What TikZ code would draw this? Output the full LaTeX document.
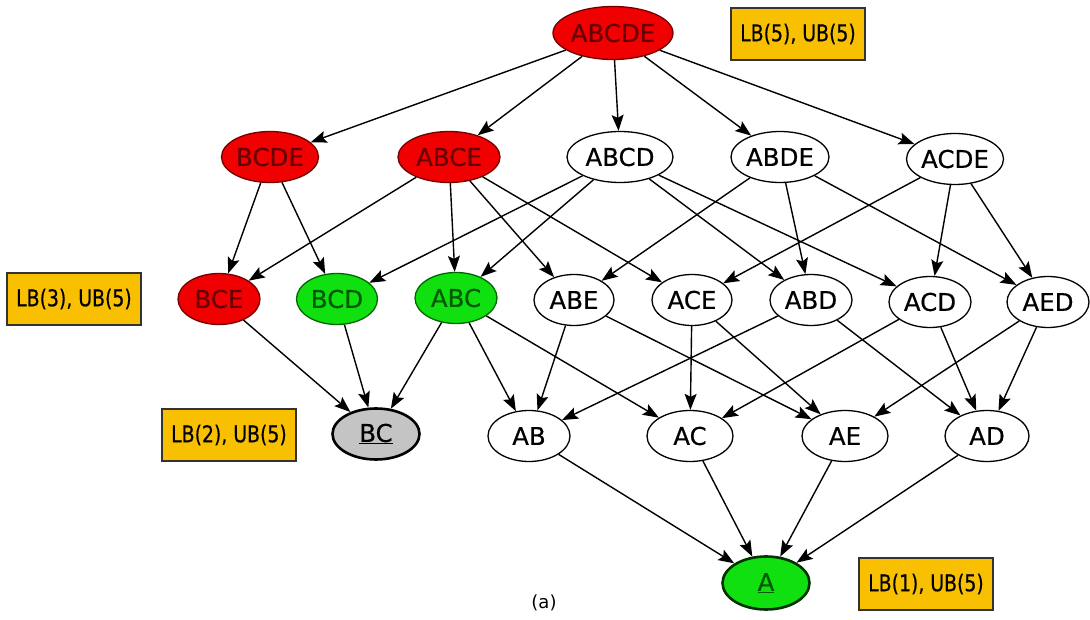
\documentclass[tikz,border=0pt]{standalone}
\usepackage{fontspec}
\setmainfont{DejaVu Sans}
\newfontfamily\labelfont{DejaVu Sans}[FakeBold=0.5]
\usetikzlibrary{shapes.geometric,arrows.meta}
\definecolor{nodered}{HTML}{F00000}
\definecolor{nodegreen}{HTML}{10E010}
\definecolor{nodegray}{HTML}{C4C4C4}
\definecolor{boxfill}{HTML}{F8C000}
\newcommand{\boundtext}[1]{\scalebox{0.82}[1]{#1}}
\begin{document}
\begin{tikzpicture}[x=1pt,y=-1pt,
  set/.style={ellipse,draw=black,line width=1.3pt,inner sep=0pt,
    minimum height=51pt,font=\labelfont\fontsize{24.5}{28}\selectfont},
  redset/.style={set,fill=nodered,draw=black!55!red,text=black!60!red},
  greenset/.style={set,fill=nodegreen,draw=black!60!green,text=black!65!green},
  grayset/.style={set,fill=nodegray,line width=2.6pt},
  bound/.style={rectangle,draw=black!80,line width=1.4pt,fill=boxfill,
    minimum width=134pt,minimum height=52pt,inner sep=0pt,
    font=\labelfont\fontsize{23}{26}\selectfont},
  edge/.style={-{Stealth[length=16pt,width=12pt,inset=3pt]},line width=1.4pt}]
\useasboundingbox (0,0) rectangle (1090,620);

% top set
\node[redset,minimum width=120pt,minimum height=53pt] (abcde) at (613,33) {ABCDE};

% four-element sets
\node[redset,minimum width=97pt]  (bcde) at (270,157) {BCDE};
\node[redset,minimum width=102pt] (abce) at (449,157) {ABCE};
\node[set,minimum width=106pt]    (abcd) at (620,157) {ABCD};
\node[set,minimum width=98pt]     (abde) at (780,157) {ABDE};
\node[set,minimum width=97pt]     (acde) at (955,159) {ACDE};

% three-element sets
\node[redset,minimum width=82pt]   (bce) at (219,299) {BCE};
\node[greenset,minimum width=81pt] (bcd) at (337,299) {BCD};
\node[greenset,minimum width=82pt] (abc) at (456,298) {ABC};
\node[set,minimum width=80pt] (abe) at (574,300) {ABE};
\node[set,minimum width=80pt] (ace) at (692,300) {ACE};
\node[set,minimum width=82pt] (abd) at (811,300) {ABD};
\node[set,minimum width=82pt] (acd) at (930,302) {ACD};
\node[set,minimum width=82pt] (aed) at (1048,302) {AED};

% two-element sets
\node[grayset,minimum width=87pt] (bc) at (376,434) {\underline{BC}};
\node[set,minimum width=82pt] (ab) at (529,436) {AB};
\node[set,minimum width=86pt] (ac) at (690,436) {AC};
\node[set,minimum width=86pt] (ae) at (845,436) {AE};
\node[set,minimum width=84pt] (ad) at (987,436) {AD};

% single set
\node[greenset,line width=2.6pt,draw=black!80!green,minimum width=87pt,minimum height=53pt]
  (a) at (766,583) {\underline{A}};

% bounds
\node[bound] (b5) at (798,34)  {\boundtext{LB(5), UB(5)}};
\node[bound] (b3) at (74,299)  {\boundtext{LB(3), UB(5)}};
\node[bound] (b2) at (229,435) {\boundtext{LB(2), UB(5)}};
\node[bound] (b1) at (926,584) {\boundtext{LB(1), UB(5)}};

\node[font=\fontsize{18}{20}\selectfont] (cap) at (544,603) {(a)};

% edges
\foreach \s/\t in {abcde/bcde,abcde/abce,abcde/abcd,abcde/abde,abcde/acde,
  bcde/bce,bcde/bcd,
  abce/bce,abce/abc,abce/abe,abce/ace,
  abcd/bcd,abcd/abc,abcd/abd,abcd/acd,
  abde/abe,abde/abd,abde/aed,
  acde/ace,acde/acd,acde/aed,
  bce/bc,bcd/bc,abc/bc,abc/ab,abc/ac,
  abe/ab,abe/ae,ace/ac,ace/ae,abd/ab,abd/ad,acd/ac,acd/ad,aed/ae,aed/ad,
  ab/a,ac/a,ae/a,ad/a}
  \draw[edge] (\s) -- (\t);
\end{tikzpicture}
\end{document}
